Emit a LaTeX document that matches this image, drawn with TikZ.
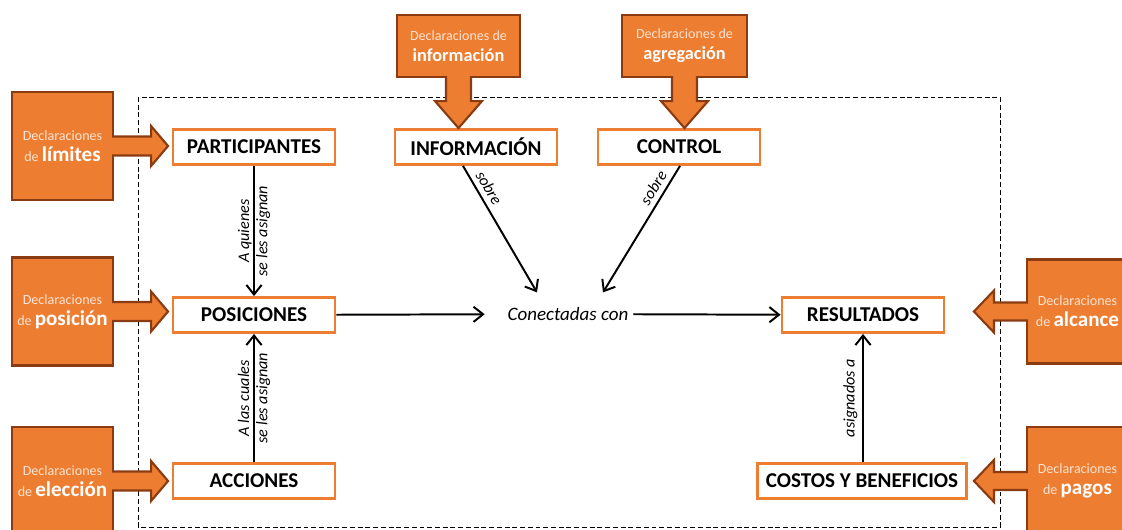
\documentclass[tikz,border=0pt]{standalone}
\usepackage{fontspec}
\setmainfont{Carlito}
\usetikzlibrary{calc,arrows.meta}

\definecolor{boxorange}{HTML}{ED7D31}
\definecolor{declorange}{HTML}{ED7D31}
\definecolor{declborder}{HTML}{8A3B12}
\definecolor{decltext}{HTML}{FBE3D3}

\newcommand{\declword}[1]{{\color{white}\fontsize{15}{15}\selectfont\bfseries #1}}
\newcommand{\declwordtop}[1]{{\color{white}\fontsize{13}{15}\selectfont\bfseries #1}}

\tikzset{
    concept/.style = {draw = boxorange, line width = 2pt, fill = white,
        minimum width = 4.05cm, minimum height = 0.875cm, inner xsep = 6pt,
        font = \fontsize{15}{17}\selectfont\bfseries},
    decl/.style = {draw = declborder, line width = 1.5pt, fill = declorange,
        text = decltext, align = center, inner sep = 0pt,
        font = \fontsize{10}{15}\selectfont},
    fatarrow/.style = {draw = declborder, line width = 1.5pt, fill = declorange, line join = miter},
    link/.style = {->, line width = 1.4pt},
    linklabel/.style = {font = \fontsize{11.5}{13}\selectfont\itshape, align = center}
}

\begin{document}
\begin{tikzpicture}[x = 0.025cm, y = -0.025cm, >={Straight Barb[length=2.4mm,width=3.8mm]}]
    \useasboundingbox (0, 0) rectangle (1122, 529);
    %\draw[lightgray] (0, 0) grid[step = 100] (1122, 529);

    % situacion de accion
    \draw[dash pattern = on 3.5pt off 2pt, line width = 0.6pt] (138, 97) rectangle (1000, 527);

    % componentes
    \node[concept] (part) at (254, 147) {PARTICIPANTES};
    \node[concept] (pos)  at (254, 315) {POSICIONES};
    \node[concept] (acc)  at (254, 481) {ACCIONES};
    \node[concept] (info) at (476, 147) {INFORMACIÓN};
    \node[concept] (ctrl) at (679, 147) {CONTROL};
    \node[concept] (res)  at (863, 315) {RESULTADOS};
    \node[concept] (cyb)  at (862, 481) {COSTOS Y BENEFICIOS};
    \node[linklabel, font = \fontsize{13.5}{15}\selectfont\itshape] (conn) at (568, 314) {Conectadas con};

    % declaraciones
    \node[decl, minimum width = 2.525cm, minimum height = 2.7cm] (dlim)  at (62.5, 146)   {Declaraciones\\de \declword{límites}};
    \node[decl, minimum width = 2.525cm, minimum height = 2.7cm] (dpos)  at (62.5, 311.5) {Declaraciones\\de \declword{posición}};
    \node[decl, minimum width = 2.525cm, minimum height = 2.7cm] (delec) at (62.5, 481)   {Declaraciones\\de \declword{elección}};
    \node[decl, minimum width = 3.075cm, minimum height = 1.55cm] (dinfo) at (458.5, 46)  {Declaraciones de\\\declwordtop{información}};
    \node[decl, minimum width = 3.125cm, minimum height = 1.55cm] (dagr)  at (684.5, 46)  {Declaraciones de\\\declwordtop{agregación}};
    \node[decl, minimum width = 2.525cm, minimum height = 2.6cm] (dalc)  at (1077.5, 311.5) {Declaraciones\\de \declword{alcance}};
    \node[decl, minimum width = 2.525cm, minimum height = 2.7cm] (dpag)  at (1077.5, 481)   {Declaraciones\\de \declword{pagos}};

    % flechas de las declaraciones
    \filldraw[fatarrow] ($(dlim.east) + (-2, -9.5)$) -- ++(39, 0) -- ++(0, -10.5) -- ++(17, 20) -- ++(-17, 20) -- ++(0, -10.5) -- ++(-39, 0);
    \filldraw[fatarrow] ($(dpos.east) + (-2, -9.5)$) -- ++(39, 0) -- ++(0, -10.5) -- ++(17, 20) -- ++(-17, 20) -- ++(0, -10.5) -- ++(-39, 0);
    \filldraw[fatarrow] ($(delec.east) + (-2, -9.5)$) -- ++(39, 0) -- ++(0, -10.5) -- ++(17, 20) -- ++(-17, 20) -- ++(0, -10.5) -- ++(-39, 0);
    \filldraw[fatarrow] ($(dalc.west) + (2, -9)$) -- ++(-34, 0) -- ++(0, -12) -- ++(-20, 21) -- ++(20, 21) -- ++(0, -12) -- ++(34, 0);
    \filldraw[fatarrow] ($(dpag.west) + (2, -9)$) -- ++(-34, 0) -- ++(0, -12) -- ++(-20, 21) -- ++(20, 21) -- ++(0, -12) -- ++(34, 0);
    \filldraw[fatarrow] ($(dinfo.south) + (-12.5, -2)$) -- ++(0, 25) -- ++(-11, 0) -- ++(23.5, 27) -- ++(23.5, -27) -- ++(-11, 0) -- ++(0, -25);
    \filldraw[fatarrow] ($(dagr.south) + (-12.5, -2)$) -- ++(0, 25) -- ++(-11, 0) -- ++(23.5, 27) -- ++(23.5, -27) -- ++(-11, 0) -- ++(0, -25);

    % relaciones
    \draw[link] (part) -- node[linklabel, rotate = 90] {A quienes\\se les asignan} (pos);
    \draw[link] (acc) -- node[linklabel, rotate = 90] {A las cuales\\se les asignan} (pos);
    \draw[link] ($(cyb.north) + (1, 0)$) -- node[linklabel, rotate = 90, above] {asignados a} (res);
    \draw[link, shorten > = 0.45cm] (pos) -- (conn);
    \draw[link] (conn) -- (res);
    \draw[link] ($(info.south) + (-13, 0)$) -- node[linklabel, pos = 0.22, sloped, above] {sobre} ($(conn.north) + (-31, -10)$);
    \draw[link] ($(ctrl.south) + (1, 0)$) -- node[linklabel, pos = 0.22, sloped, above] {sobre} ($(conn.north) + (35, -10)$);
\end{tikzpicture}
\end{document}
